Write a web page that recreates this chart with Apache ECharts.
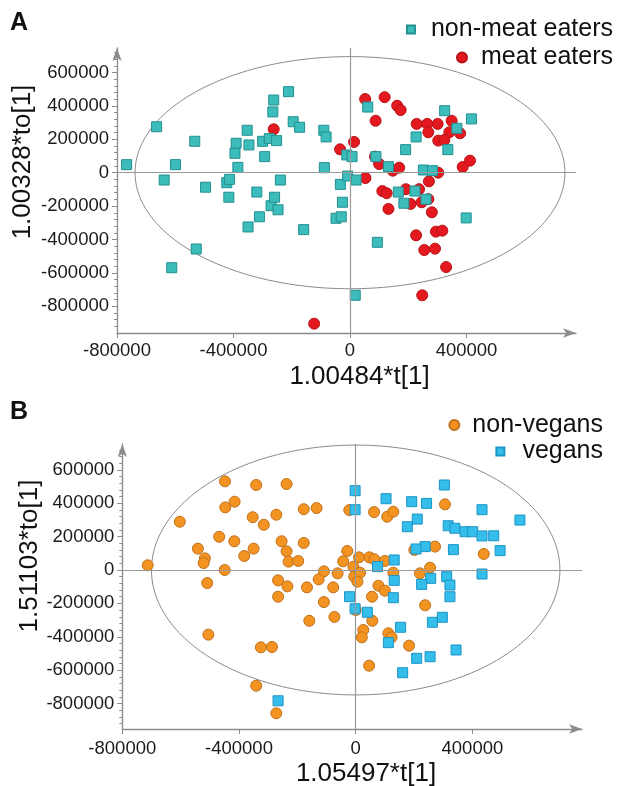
<!DOCTYPE html>
<html>
<head>
<meta charset="utf-8">
<script src="https://cdn.jsdelivr.net/npm/echarts@6/dist/echarts.min.js"></script>
<style>
html,body{margin:0;padding:0;background:#fff;}
#chart{width:617px;height:786px;}
</style>
</head>
<body>
<div id="chart"></div>
<script>
// ---------- data ----------
const nonMeatEaters = [[-767000,48000],[-664000,275000],[-638000,-44000],[-599000,48000],[-533000,188000],[-496000,-87000],[-528000,-457000],[-612000,-569000],[-353000,254000],[-391000,176000],[-395000,116000],[-347000,166000],[-385000,32000],[-423000,-60000],[-414000,-40000],[-416000,-147000],[-320000,-116000],[-350000,-325000],[-311000,-264000],[-271000,-198000],[-259000,-147000],[-247000,-222000],[-239000,-44000],[-293000,96000],[-300000,188000],[-277000,204000],[-252000,192000],[-265000,364000],[-262000,435000],[-211000,485000],[-195000,305000],[-173000,272000],[-90000,254000],[-82000,214000],[-159000,-341000],[-88000,30000],[-33000,-70000],[-26000,-177000],[-48000,-273000],[-30000,-264000],[-11000,106000],[7000,96000],[-8000,-20000],[21000,-44000],[18000,-734000],[61000,393000],[89000,96000],[132000,36000],[94000,-417000],[166000,-116000],[185000,-183000],[223000,-110000],[261000,-159000],[252000,16000],[283000,12000],[191000,138000],[227000,214000],[336000,138000],[325000,371000],[367000,266000],[417000,322000],[399000,-271000]];
const meatEaters = [[-262000,260000],[-34000,140000],[14000,184000],[-123000,-904000],[52000,441000],[119000,452000],[162000,401000],[174000,375000],[88000,311000],[229000,292000],[265000,292000],[269000,242000],[301000,292000],[349000,311000],[341000,242000],[378000,236000],[303000,192000],[324000,196000],[86000,96000],[100000,52000],[147000,12000],[169000,30000],[53000,-32000],[271000,-52000],[303000,0],[387000,34000],[412000,72000],[111000,-110000],[126000,-123000],[192000,-99000],[237000,-99000],[208000,-187000],[246000,-177000],[269000,-159000],[281000,-237000],[132000,-217000],[227000,-375000],[295000,-353000],[317000,-347000],[255000,-463000],[292000,-455000],[330000,-565000],[248000,-734000]];
const nonVegans = [[-713000,28000],[-603000,289000],[-541000,128000],[-517000,70000],[-521000,42000],[-509000,-78000],[-505000,-387000],[-468000,199000],[-449000,0],[-448000,531000],[-447000,375000],[-415000,409000],[-416000,172000],[-382000,84000],[-350000,128000],[-353000,316000],[-341000,509000],[-315000,271000],[-272000,331000],[-237000,515000],[-254000,172000],[-237000,112000],[-230000,50000],[-197000,54000],[-178000,364000],[-134000,371000],[-178000,162000],[-266000,-62000],[-234000,-98000],[-266000,-160000],[-167000,-104000],[-159000,-304000],[-109000,-192000],[-109000,-8000],[-127000,-56000],[-77000,-104000],[-73000,-281000],[-62000,-20000],[-43000,52000],[-29000,114000],[-8000,20000],[-5000,-40000],[-22000,359000],[-325000,-463000],[-287000,-461000],[-341000,-693000],[-272000,-858000],[63000,347000],[108000,319000],[129000,349000],[306000,393000],[11000,76000],[47000,76000],[64000,64000],[100000,54000],[15000,-16000],[6000,-70000],[129000,-16000],[78000,-94000],[100000,-124000],[56000,-160000],[0,-240000],[57000,-304000],[26000,-359000],[21000,-403000],[112000,-379000],[123000,-403000],[183000,-453000],[46000,-573000],[201000,120000],[272000,140000],[220000,-20000],[255000,14000],[238000,-211000],[439000,96000]];
const vegans = [[-2000,475000],[-2000,361000],[-21000,-160000],[-2000,-232000],[-266000,-783000],[104000,427000],[192000,409000],[243000,399000],[304000,509000],[211000,305000],[177000,259000],[433000,361000],[563000,299000],[317000,265000],[340000,250000],[375000,229000],[401000,229000],[433000,204000],[473000,205000],[495000,116000],[335000,122000],[238000,140000],[207000,126000],[132000,60000],[75000,20000],[132000,-62000],[312000,-40000],[323000,-90000],[433000,-24000],[257000,-50000],[226000,-86000],[129000,-166000],[323000,-160000],[40000,-253000],[154000,-343000],[263000,-313000],[297000,-283000],[112000,-435000],[344000,-479000],[209000,-529000],[255000,-519000],[161000,-615000]];

const xTickLabels = [-800000, -400000, 0, 400000];
const yTickLabels = [-800000, -600000, -400000, -200000, 0, 200000, 400000, 600000];
const ellipseA = [738000, 695000];   // semi-axes (t, to)
const ellipseB = [700000, 748000];

// ---------- helpers ----------
const FONT = "'Liberation Sans', Arial, sans-serif";
const AX = '#8c8c8c';
function minorValues(lo, hi, step) { const a = []; for (let v = lo; v <= hi; v += step) a.push(v); return a; }

function xAxisDef(gi, min, max, margin) {
  return {
    type: 'value', gridIndex: gi, min: min, max: max,
    axisLine: { show: true, onZero: false, symbol: ['none', 'arrow'], symbolSize: [7, 13], lineStyle: { color: AX, width: 1.3 } },
    axisTick: { show: true, length: 5, customValues: xTickLabels, lineStyle: { color: AX } },
    axisLabel: { show: true, customValues: xTickLabels, formatter: v => String(v), margin: margin, color: '#1a1a1a', fontSize: 18.5, fontFamily: FONT },
    splitLine: { show: false }
  };
}
function yAxisMain(gi, min, max) {
  return {
    type: 'value', gridIndex: gi, min: min, max: max, position: 'left',
    axisLine: { show: true, onZero: false, symbol: ['none', 'arrow'], symbolSize: [7, 13], lineStyle: { color: AX, width: 1.3 } },
    axisTick: { show: true, length: 5, customValues: yTickLabels, lineStyle: { color: AX } },
    axisLabel: { show: true, customValues: yTickLabels, formatter: v => String(v), margin: 8, color: '#1a1a1a', fontSize: 18.5, fontFamily: FONT },
    splitLine: { show: false }
  };
}
function yAxisMinor(gi, min, max, lo, hi) {
  return {
    type: 'value', gridIndex: gi, min: min, max: max, position: 'left', offset: 0,
    axisLine: { show: false, onZero: false },
    axisTick: { show: true, length: 3, customValues: minorValues(lo, hi, 40000), lineStyle: { color: AX } },
    axisLabel: { show: false },
    splitLine: { show: false }
  };
}
function ellipseSeries(xi, yi, semi) {
  return {
    type: 'custom', xAxisIndex: xi, yAxisIndex: yi, silent: true, z: 1, clip: false,
    data: [[0, 0]], encode: { x: 0, y: 1 },
    renderItem: function (params, api) {
      const c = api.coord([0, 0]);
      const s = api.size([semi[0], semi[1]]);
      const pts = [];
      for (let i = 0; i <= 240; i++) {
        const t = i / 240 * Math.PI * 2;
        pts.push([c[0] + s[0] * Math.cos(t), c[1] + s[1] * Math.sin(t)]);
      }
      return { type: 'polyline', shape: { points: pts }, style: { stroke: '#8a8a8a', fill: null, lineWidth: 1 } };
    },
    markLine: {
      silent: true, symbol: ['none', 'none'], label: { show: false },
      lineStyle: { color: '#9a9a9a', width: 1.2, type: 'solid' },
      data: [{ xAxis: 0 }, { yAxis: 0 }]
    }
  };
}
function scatter(name, xi, yi, data, symbol, size, color, border) {
  return {
    type: 'scatter', name: name, xAxisIndex: xi, yAxisIndex: yi, data: data,
    symbol: symbol, symbolSize: size, z: 3,
    itemStyle: { color: color, borderColor: border, borderWidth: 1, opacity: 1 }
  };
}
function legendItem(name, right, top, icon, w, h, pad) {
  return {
    data: [{ name: name, icon: icon }], right: right, top: top, orient: 'vertical',
    itemWidth: w, itemHeight: h, padding: 0, selectedMode: false,
    formatter: n => '{a|' + n + '}',
    textStyle: { rich: { a: { fontSize: 25, fontFamily: FONT, color: '#111', padding: [0, 0, 0, pad], lineHeight: 25 } } }
  };
}

const chart = echarts.init(document.getElementById('chart'), null, { renderer: 'canvas' });
chart.setOption({
  backgroundColor: '#ffffff',
  animation: false,
  grid: [
    { left: 117, top: 48, width: 459, height: 285 },
    { left: 122.3, top: 444, width: 459.7, height: 285 }
  ],
  xAxis: [
    xAxisDef(0, -800000, 776000, 8),
    xAxisDef(1, -800000, 775700, 10)
  ],
  yAxis: [
    yAxisMain(0, -960000, 746600),
    yAxisMinor(0, -960000, 746600, -920000, 720000),
    yAxisMain(1, -952100, 754500),
    yAxisMinor(1, -952100, 754500, -920000, 720000)
  ],
  legend: [
    legendItem('non-meat eaters', 4, 17, 'rect', 8, 8, 11),
    legendItem('meat eaters', 4, 45, 'circle', 10, 10, 9),
    legendItem('non-vegans', 14, 412.5, 'circle', 10, 10, 8),
    legendItem('vegans', 14, 439, 'rect', 8, 8, 13)
  ],
  graphic: [
    { type: 'text', left: 10, top: 11, style: { text: 'A', font: 'bold 25px ' + FONT, fill: '#111' } },
    { type: 'text', left: 10, top: 400, style: { text: 'B', font: 'bold 25px ' + FONT, fill: '#111' } },
    { type: 'text', x: 359.5, y: 377, style: { text: '1.00484*t[1]', font: '26px ' + FONT, fill: '#111', align: 'center', verticalAlign: 'middle' } },
    { type: 'text', x: 366, y: 774, style: { text: '1.05497*t[1]', font: '26px ' + FONT, fill: '#111', align: 'center', verticalAlign: 'middle' } },
    { type: 'text', x: 23, y: 162, rotation: Math.PI / 2, style: { text: '1.00328*to[1]', font: '26px ' + FONT, fill: '#111', align: 'center', verticalAlign: 'middle' } },
    { type: 'text', x: 30, y: 556, rotation: Math.PI / 2, style: { text: '1.51103*to[1]', font: '26px ' + FONT, fill: '#111', align: 'center', verticalAlign: 'middle' } }
  ],
  series: [
    ellipseSeries(0, 0, ellipseA),
    ellipseSeries(1, 2, ellipseB),
    scatter('meat eaters', 0, 0, meatEaters, 'circle', 11, '#e3191f', '#b81217'),
    scatter('non-meat eaters', 0, 0, nonMeatEaters, 'rect', 10, '#3dbcbc', '#238f90'),
    scatter('non-vegans', 1, 2, nonVegans, 'circle', 11, '#f39321', '#c0701a'),
    scatter('vegans', 1, 2, vegans, 'rect', 10, '#35bdec', '#1b95c4')
  ]
});
</script>
</body>
</html>
